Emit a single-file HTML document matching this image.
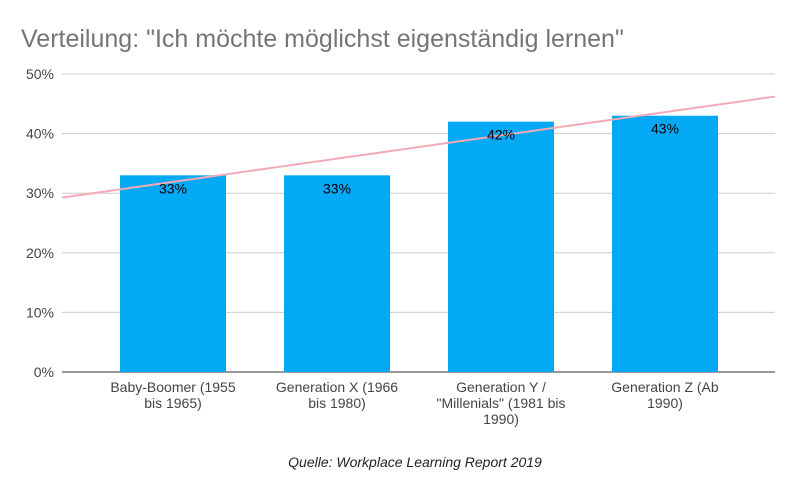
<!DOCTYPE html>
<html><head><meta charset="utf-8"><style>
body{margin:0;background:#fff;}
svg{display:block;font-family:"Liberation Sans",Arial,sans-serif;}
</style></head><body>
<svg id="chart" width="800" height="492">
<text x="21" y="47" font-size="25" fill="#757575">Verteilung: "Ich möchte möglichst eigenständig lernen"</text>
<g id="grid"></g><g id="bars"></g><g id="trend"></g><g id="labels"></g>
<text x="415" y="467" font-size="14" font-style="italic" fill="#222" text-anchor="middle">Quelle: Workplace Learning Report 2019</text>
</svg>
<script>
const categories=[["Baby-Boomer (1955","bis 1965)"],["Generation X (1966","bis 1980)"],["Generation Y /","\"Millenials\" (1981 bis","1990)"],["Generation Z (Ab","1990)"]];
const values=[33,33,42,43];
const valueLabels=["33%","33%","42%","43%"];
const ticks=[0,10,20,30,40,50];
const NS="http://www.w3.org/2000/svg";
const X0=62,X1=775,Y0=372,Y50=74,step=164,first=173,bw=106;
const y=v=>Y0-(v/50)*(Y0-Y50);
const xc=i=>first+i*step;
function mk(t,a,p){const e=document.createElementNS(NS,t);for(const k in a)e.setAttribute(k,a[k]);document.getElementById(p).appendChild(e);return e;}
ticks.forEach(t=>{
 const l=mk('line',{x1:X0,x2:X1,y1:y(t),y2:y(t),stroke:t===0?'#333':'#ccc','stroke-width':1},'grid');
 
 
 const tx=mk('text',{x:54,y:y(t)+5,'font-size':14,fill:'#444','text-anchor':'end'},'grid');
 tx.textContent=t+'%';
 
 
});
values.forEach((v,i)=>{
 const r=mk('rect',{x:xc(i)-bw/2,y:y(v),width:bw,height:Y0-y(v),fill:'#03a9f4'},'bars');
 
 
 const t=mk('text',{x:xc(i),y:y(v)+18,'font-size':14,fill:'#000','text-anchor':'middle'},'labels');
 t.textContent=valueLabels[i];
 
 
 categories[i].forEach((s,j)=>{
  const c=mk('text',{x:xc(i),y:392+j*16,'font-size':14,fill:'#444','text-anchor':'middle'},'labels');
  c.textContent=s;
  
  
 });
});
// linear trendline
const n=values.length;const mx=(n-1)/2;const my=values.reduce((a,b)=>a+b,0)/n;
let num=0,den=0;values.forEach((v,i)=>{num+=(i-mx)*(v-my);den+=(i-mx)*(i-mx);});
const slope=num/den;const f=xi=>my+slope*(xi-mx);
const xiL=(X0-first)/step,xiR=(X1-first)/step;
const tl=mk('line',{x1:X0,y1:y(f(xiL)),x2:X1,y2:y(f(xiR)),stroke:'#f4a9b8','stroke-width':2},'trend');


</script>
</body></html>
